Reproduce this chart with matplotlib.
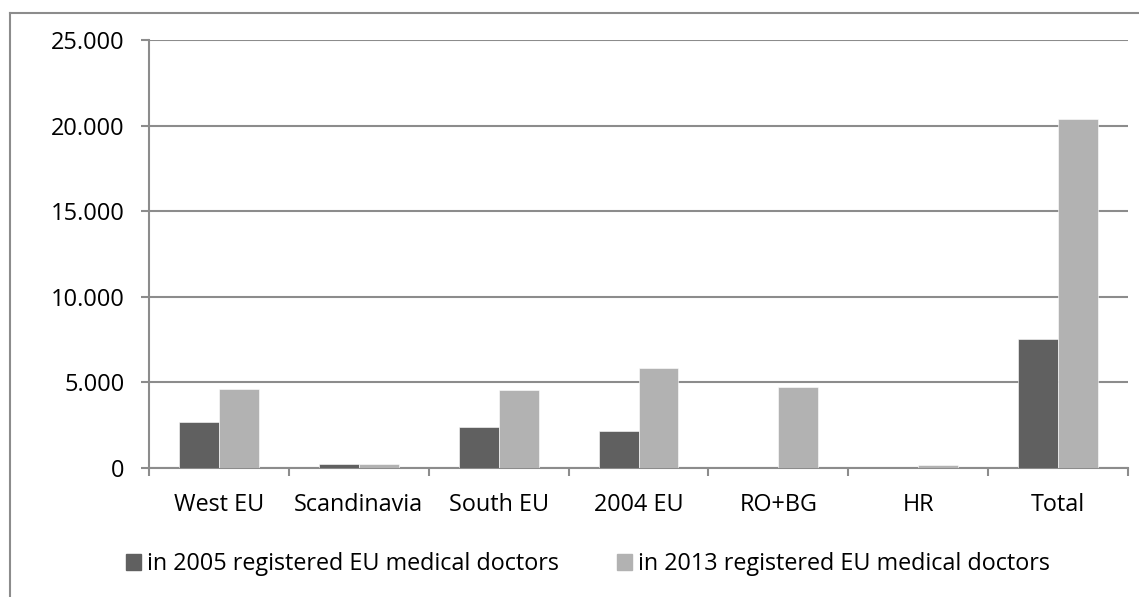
import matplotlib.pyplot as plt
from matplotlib.lines import Line2D
from matplotlib.patches import Patch
from matplotlib.ticker import FuncFormatter
import numpy as np

plt.rcParams['font.family'] = ['Open Sans', 'DejaVu Sans']

regions = ['West EU', 'Scandinavia', 'South EU', '2004 EU', 'RO+BG', 'HR', 'Total']
doctors_2005 = [2690, 220, 2400, 2140, 0, 0, 7530]
doctors_2013 = [4640, 240, 4580, 5840, 4710, 200, 20370]
series_labels = ['in 2005 registered EU medical doctors',
                 'in 2013 registered EU medical doctors']
yticks = [0, 5000, 10000, 15000, 20000, 25000]

dark = '#606060'
light = '#b2b2b2'
grid = '#8c8c8c'

W, H = 1139, 597
fig = plt.figure(figsize=(W / 100, H / 100), dpi=100)
ax = fig.add_axes([149 / W, 1 - 468 / H, (1128 - 149) / W, (468 - 40) / H])

x = np.arange(len(regions))
bw = 40 / 140
ax.bar(x - bw / 2, doctors_2005, bw, color=dark, edgecolor='white', linewidth=0.4, zorder=3)
ax.bar(x + bw / 2, doctors_2013, bw, color=light, edgecolor='white', linewidth=0.4, zorder=3)

ax.set_xlim(-0.5, len(regions) - 0.5)
ax.set_ylim(0, 25000)
ax.set_yticks(yticks)
ax.yaxis.set_major_formatter(FuncFormatter(lambda v, p: f'{int(v):,}'.replace(',', '.')))
ax.set_xticks(x)
ax.set_xticklabels(regions)
ax.set_xticks(np.arange(len(regions) + 1) - 0.5, minor=True)

ax.grid(axis='y', color=grid, linewidth=1.5, zorder=0)
for s in ['top', 'right']:
    ax.spines[s].set_visible(False)
for s in ['left', 'bottom']:
    ax.spines[s].set_color(grid)
    ax.spines[s].set_linewidth(1.5)

ax.tick_params(axis='y', length=5.5, width=1.5, color=grid, pad=12, labelsize=17)
ax.tick_params(axis='x', which='major', length=0, pad=18, labelsize=16.8)
ax.tick_params(axis='x', which='minor', length=6, width=1.5, color=grid)

handles = [Patch(color=dark), Patch(color=light)]
fig.legend(handles, series_labels, loc='center', bbox_to_anchor=(588 / W, 1 - 564 / H),
           ncol=2, frameon=False, fontsize=16.8, handlelength=0.64, handleheight=0.64,
           handletextpad=0.26, columnspacing=2.5)

# outer chart border (left and top edges)
fig.add_artist(Line2D([10 / W, 10 / W], [0, 1 - 13 / H], transform=fig.transFigure,
                      color=grid, linewidth=1.5))
fig.add_artist(Line2D([10 / W, 1], [1 - 13 / H, 1 - 13 / H], transform=fig.transFigure,
                      color=grid, linewidth=1.5))

fig.savefig('out.png', dpi=100)
